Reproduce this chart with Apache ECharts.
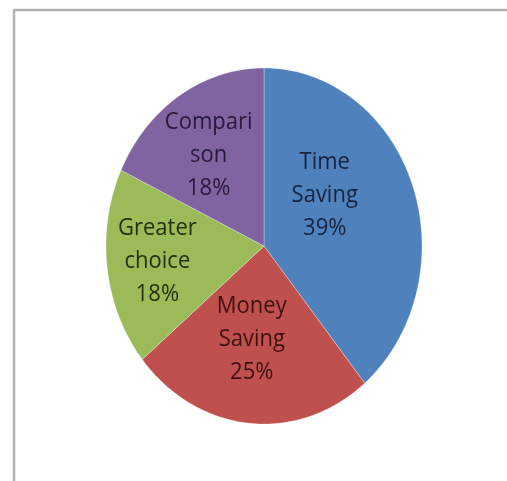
<!DOCTYPE html>
<html>
<head>
<meta charset="utf-8">
<script src="https://cdn.jsdelivr.net/npm/echarts@6/dist/echarts.min.js"></script>
<style>
  html, body { margin: 0; padding: 0; background: #fff; }
  #chart { width: 507px; height: 481px; }
</style>
</head>
<body>
<div id="chart"></div>
<script>
// Reasons for shopping online, share of respondents
const categories = ['Time Saving', 'Money Saving', 'Greater choice', 'Comparison'];
const labelTexts = ['Time\nSaving', 'Money\nSaving', 'Greater\nchoice', 'Compari\nson'];
const values = [39, 25, 18, 18];

// Slice and label colours (Office palette)
const sliceColors = ['#4f81bd', '#c0504d', '#9bbb59', '#8064a2'];
const textColors = ['#17243f', '#3e1110', '#24300e', '#271a3a'];

// Label placement: angle shift (deg) from the slice mid-angle, and radius fraction
const labelShift = [-17, 3, 0, -2];
const labelRadius = [0.48, 0.53, 0.68, 0.62];

const total = values.reduce((a, b) => a + b, 0);
const starts = [];
values.reduce((acc, v, i) => { starts[i] = acc; return acc + v; }, 0);

const chart = echarts.init(document.getElementById('chart'), null, { renderer: 'canvas' });

function renderSlice(params, api) {
  const i = params.dataIndex;
  const v = api.value(0);
  // elliptical pie geometry
  const cx = 264, cy = 246, rx = 158, ry = 178;
  const a0 = starts[i] / total * Math.PI * 2;
  const a1 = (starts[i] + v) / total * Math.PI * 2;
  const pts = [[cx, cy]];
  const steps = Math.max(8, Math.ceil((a1 - a0) / (Math.PI / 180)));
  for (let k = 0; k <= steps; k++) {
    const t = a0 + (a1 - a0) * k / steps;
    pts.push([cx + rx * Math.sin(t), cy - ry * Math.cos(t)]);
  }
  const mid = (a0 + a1) / 2 + labelShift[i] * Math.PI / 180;
  const lr = labelRadius[i];
  const lx = cx + rx * lr * Math.sin(mid);
  const ly = cy - ry * lr * Math.cos(mid);
  const sy = 1.1;
  return {
    type: 'group',
    children: [
      {
        type: 'polygon',
        shape: { points: pts },
        style: { fill: sliceColors[i], stroke: 'rgba(255,255,255,0.3)', lineWidth: 1 }
      },
      {
        type: 'text',
        x: lx, y: ly,
        scaleY: sy,
        style: {
          text: labelTexts[i] + '\n' + v + '%',
          x: 0, y: 0,
          align: 'center',
          verticalAlign: 'middle',
          fontFamily: 'Open Sans',
          fontSize: 22,
          lineHeight: 33 / sy,
          fill: textColors[i]
        }
      }
    ]
  };
}

chart.setOption({
  backgroundColor: '#ffffff',
  animation: false,
  graphic: [
    { type: 'line', shape: { x1: 14, y1: 10, x2: 507, y2: 10 }, style: { stroke: '#b3b3b3', lineWidth: 2.5 } },
    { type: 'line', shape: { x1: 14, y1: 9, x2: 14, y2: 481 }, style: { stroke: '#b3b3b3', lineWidth: 2.5 } }
  ],
  series: [{
    type: 'custom',
    name: 'Reasons',
    coordinateSystem: 'none',
    renderItem: renderSlice,
    data: values.map((v, i) => ({ name: categories[i], value: [v] }))
  }]
});
</script>
</body>
</html>
